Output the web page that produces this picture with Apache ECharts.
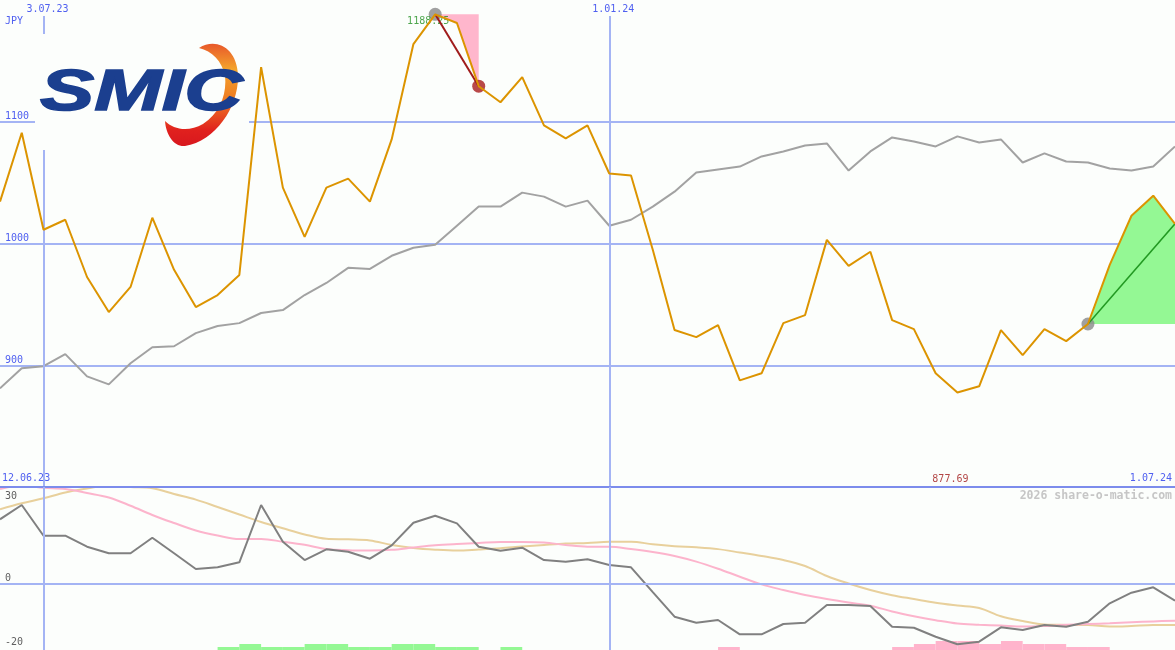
<!DOCTYPE html>
<html>
<head>
<meta charset="utf-8">
<script src="https://cdn.jsdelivr.net/npm/echarts@6/dist/echarts.min.js"></script>
<style>
html,body{margin:0;padding:0;background:#fcfefc;}
#chart{width:1175px;height:650px;}
</style>
</head>
<body>
<div id="chart"></div>
<script>
// ---------- data ----------
const dates = [
 '2023-06-19','2023-06-26','2023-07-03','2023-07-10','2023-07-17','2023-07-24','2023-07-31','2023-08-07','2023-08-14','2023-08-21',
 '2023-08-28','2023-09-04','2023-09-11','2023-09-18','2023-09-25','2023-10-02','2023-10-09','2023-10-16','2023-10-23','2023-10-30',
 '2023-11-06','2023-11-13','2023-11-20','2023-11-27','2023-12-04','2023-12-11','2023-12-18','2023-12-25','2024-01-01','2024-01-08',
 '2024-01-15','2024-01-22','2024-01-29','2024-02-05','2024-02-12','2024-02-19','2024-02-26','2024-03-04','2024-03-11','2024-03-18',
 '2024-03-25','2024-04-01','2024-04-08','2024-04-15','2024-04-22','2024-04-29','2024-05-06','2024-05-13','2024-05-20','2024-05-27',
 '2024-06-03','2024-06-10','2024-06-17','2024-06-24','2024-07-01'
];
const closePrice = [
 1034.4, 1091.0, 1011.3, 1019.5, 972.5, 943.7, 964.3, 1021.2, 978.4, 947.8,
 957.7, 974.2, 1144.8, 1045.9, 1005.5, 1045.9, 1053.3, 1034.4, 1085.5, 1163.8,
 1188.25, 1181.1, 1129.2, 1116.0, 1136.6, 1097.0, 1086.3, 1097.0, 1057.5, 1055.8,
 994.8, 928.9, 923.1, 933.0, 887.6, 893.4, 934.6, 941.2, 1003.0, 981.6,
 993.2, 937.1, 929.7, 893.4, 877.69, 882.7, 928.9, 908.3, 929.7, 919.8,
 933.9, 982.4, 1022.8, 1039.3, 1016.2
];
const movingAvg = [
 881.0, 897.5, 899.2, 909.1, 890.9, 884.3, 901.6, 914.8, 915.6, 926.4,
 932.2, 934.6, 942.9, 945.3, 957.7, 967.6, 980.0, 979.1, 989.9, 996.5,
 998.9, 1014.6, 1030.3, 1030.3, 1041.8, 1038.5, 1030.3, 1035.2, 1014.6, 1019.5,
 1030.3, 1042.6, 1058.3, 1060.8, 1063.2, 1071.5, 1075.6, 1080.5, 1082.2, 1059.9,
 1075.6, 1087.1, 1083.8, 1079.7, 1088.0, 1083.0, 1085.5, 1066.5, 1074.0, 1067.4,
 1066.5, 1061.6, 1059.9, 1063.2, 1079.7
];
const momentum = [
 19.96, 24.4, 14.86, 14.86, 11.44, 9.39, 9.39, 14.24, 9.39, 4.51,
 5.04, 6.59, 24.4, 13.0, 7.30, 10.63, 9.89, 7.71, 11.87, 18.9,
 21.08, 18.71, 11.44, 10.2, 11.13, 7.30, 6.78, 7.52, 5.75, 5.04,
 -2.7, -10.32, -12.19, -11.35, -15.79, -15.79, -12.59, -12.19, -6.68, -6.68,
 -6.99, -13.43, -13.74, -16.54, -18.9, -18.09, -13.62, -14.45, -12.9, -13.43,
 -11.87, -6.15, -2.86, -1.18, -5.35
];
const momentumFast = [
 29.37, 30.46, 29.78, 29.37, 28.13, 26.73, 24.18, 21.3, 18.8, 16.47,
 14.92, 13.83, 13.83, 12.99, 12.03, 10.72, 10.35, 10.26, 10.48, 11.19,
 11.87, 12.28, 12.59, 12.9, 12.9, 12.74, 11.97, 11.44, 11.44, 10.72,
 9.79, 8.55, 6.8, 4.6, 2.11, -0.28, -2.02, -3.57, -4.82, -5.91,
 -6.9, -8.7, -10.16, -11.4, -12.46, -12.81, -13.09, -13.4, -13.21, -12.84,
 -12.59, -12.37, -12.06, -11.78, -11.57
];
const momentumSlow = [
 23.07, 24.93, 26.49, 28.29, 29.53, 30.56, 30.0, 29.62, 27.82, 26.08,
 23.78, 21.45, 19.12, 17.16, 15.26, 13.9, 13.74, 13.4, 11.97, 11.04,
 10.51, 10.23, 10.57, 10.97, 11.5, 11.97, 12.4, 12.62, 12.96, 12.99,
 12.19, 11.6, 11.25, 10.69, 9.64, 8.55, 7.3, 5.44, 2.33, 0,
 -2.02, -3.64, -4.82, -5.97, -6.84, -7.62, -10.2, -11.66, -12.75, -12.87,
 -12.9, -13.4, -13.21, -12.9, -12.9
];
const upBarWeeks   = [10, 11, 12, 13, 14, 15, 16, 17, 18, 19, 20, 21, 23];
const upBarHeights = [0.93, 1.87, 0.93, 0.93, 1.87, 1.87, 0.93, 0.93, 1.87, 1.87, 0.93, 0.93, 0.93];
const downBarWeeks   = [33, 41, 42, 43, 44, 45, 46, 47, 48, 49, 50];
const downBarHeights = [0.93, 0.93, 1.87, 2.8, 2.8, 1.87, 2.8, 1.87, 1.87, 0.93, 0.93];

const xTickDates  = ['2023-07-03', '2024-01-01'];
const xTickLabels = ['3.07.23', '1.01.24'];
const priceTicks  = [900, 1000, 1100];
const rangeStartLabel = '12.06.23';
const rangeEndLabel   = '1.07.24';
const currencyLabel = 'JPY';
const creditLabel = '2026 share-o-matic.com';

const PEAK_IDX = 20;      // highest close
const DRAWDOWN_IDX = 22;  // end of marked drop
const LOW_IDX = 44;       // lowest close
const RISE_START = 50;
const RISE_END = 54;

// ---------- style constants ----------
const BG = '#fcfefc';
const GRID = '#a4b4f4';
const DIV = '#7c8cec';
const BLUE = '#5060f0';
const MONO = '"DejaVu Sans Mono", monospace';
const PRICE_MIN = 800, PRICE_MAX = 1200;
const LOW_MIN = -20.67, LOW_MAX = 30;
const VLINE_TOP = 1186.9;

const t = s => new Date(s + 'T00:00:00').getTime();
const T = dates.map(t);
const pair = arr => arr.map((v, i) => [T[i], v]);

const crescentSvg =
  '<svg xmlns="http://www.w3.org/2000/svg" width="80" height="112" viewBox="160 38 80 112">' +
  '<defs><linearGradient id="g" x1="0" y1="0" x2="0" y2="1">' +
  '<stop offset="0" stop-color="#e8582a"/><stop offset="0.25" stop-color="#f4a42c"/>' +
  '<stop offset="0.55" stop-color="#ee7a22"/><stop offset="0.85" stop-color="#e0201e"/>' +
  '<stop offset="1" stop-color="#d8181e"/></linearGradient></defs>' +
  '<path fill="url(#g)" d="M199 48 C216 37 237 48 238 75 C239 106 216 141 185 146 C174 147 166 135 165 121 ' +
  'C174 130 189 132 203 124 C220 113 227 94 225 76 C222 61 212 51 199 48 Z"/></svg>';
const crescentUrl = 'data:image/svg+xml;charset=utf-8,' + encodeURIComponent(crescentSvg);

const chart = echarts.init(document.getElementById('chart'), null, {renderer: 'canvas'});

const option = {
  backgroundColor: BG,
  animation: false,
  grid: [
    {left: 0, right: 0, top: 0, height: 487},
    {left: 0, right: 0, top: 487, height: 163}
  ],
  xAxis: [
    {type: 'time', gridIndex: 0, min: T[0], max: T[T.length - 1], show: false},
    {type: 'time', gridIndex: 1, min: T[0], max: T[T.length - 1], show: false}
  ],
  yAxis: [
    {
      type: 'value', gridIndex: 0, min: PRICE_MIN, max: PRICE_MAX, interval: 100,
      axisLine: {show: false}, axisTick: {show: false},
      axisLabel: {
        inside: true, margin: 5, verticalAlign: 'bottom', color: BLUE,
        fontFamily: MONO, fontSize: 10,
        formatter: v => priceTicks.indexOf(v) >= 0 ? String(v) : ''
      },
      splitLine: {show: true, showMinLine: false, showMaxLine: false, lineStyle: {color: GRID, width: 2}}
    },
    {
      type: 'value', gridIndex: 1, min: LOW_MIN, max: LOW_MAX,
      axisLine: {show: false}, axisTick: {show: false}, splitLine: {show: false},
      axisLabel: {
        customValues: [-20, 0], inside: true, margin: 5, verticalAlign: 'bottom',
        color: '#606060', fontFamily: MONO, fontSize: 10
      }
    },
    {
      type: 'value', gridIndex: 1, min: LOW_MIN, max: LOW_MAX, position: 'left',
      axisLine: {show: false}, axisTick: {show: false}, splitLine: {show: false},
      axisLabel: {
        customValues: [30], inside: true, margin: 5, verticalAlign: 'top',
        padding: [4, 0, 0, 0],
        color: '#606060', fontFamily: MONO, fontSize: 10
      }
    }
  ],
  series: [
    // moving average
    {
      type: 'line', xAxisIndex: 0, yAxisIndex: 0, z: 2, silent: true,
      data: pair(movingAvg), symbol: 'none',
      lineStyle: {color: '#a2a2a2', width: 2},
      markLine: {
        silent: true, symbol: 'none', animation: false,
        lineStyle: {color: GRID, width: 2, type: 'solid'},
        label: {
          show: true, position: 'start', formatter: '{b}', color: BLUE,
          fontFamily: MONO, fontSize: 10, distance: 2, padding: [0, 0, 0, 8]
        },
        data: xTickDates.map((d, i) => [
          {name: xTickLabels[i], coord: [t(d), VLINE_TOP]},
          {coord: [t(d), PRICE_MIN]}
        ]).concat([[
          {name: '', coord: [T[0], PRICE_MIN], lineStyle: {color: DIV, width: 2}, label: {show: false}},
          {coord: [T[T.length - 1], PRICE_MIN]}
        ]])
      }
    },
    // pink drop area
    {
      type: 'custom', xAxisIndex: 0, yAxisIndex: 0, z: 1, silent: true,
      data: [[T[PEAK_IDX], closePrice[PEAK_IDX]]],
      renderItem: (params, api) => {
        const pts = [api.coord([T[PEAK_IDX], closePrice[PEAK_IDX]]),
                     api.coord([T[DRAWDOWN_IDX], closePrice[PEAK_IDX]])];
        for (let i = DRAWDOWN_IDX; i >= PEAK_IDX; i--) pts.push(api.coord([T[i], closePrice[i]]));
        return {type: 'polygon', shape: {points: pts}, style: {fill: '#ffb6cc'}};
      }
    },
    // green rise area
    {
      type: 'custom', xAxisIndex: 0, yAxisIndex: 0, z: 1, silent: true,
      data: [[T[RISE_START], closePrice[RISE_START]]],
      renderItem: (params, api) => {
        const pts = [];
        for (let i = RISE_START; i <= RISE_END; i++) pts.push(api.coord([T[i], closePrice[i]]));
        pts.push(api.coord([T[RISE_END], closePrice[RISE_START]]));
        return {type: 'polygon', shape: {points: pts}, style: {fill: '#94f894'}};
      }
    },
    // markers (circles)
    {
      type: 'scatter', xAxisIndex: 0, yAxisIndex: 0, z: 3, silent: true,
      symbol: 'circle', symbolSize: 13,
      data: [
        {value: [T[PEAK_IDX], closePrice[PEAK_IDX]], itemStyle: {color: '#888888'},
         label: {show: true, position: 'inside', offset: [-7, 7], color: '#209020',
                 fontFamily: MONO, fontSize: 10,
                 formatter: p => p.value[1].toFixed(2)}},
        {value: [T[DRAWDOWN_IDX], closePrice[DRAWDOWN_IDX]], itemStyle: {color: '#a81c1c'}},
        {value: [T[RISE_START], closePrice[RISE_START]], itemStyle: {color: '#888888'}}
      ]
    },
    // low label
    {
      type: 'scatter', xAxisIndex: 0, yAxisIndex: 0, z: 6, silent: true,
      symbolSize: 0,
      data: [[T[LOW_IDX], PRICE_MIN]],
      label: {show: true, position: 'top', distance: 3, offset: [-7, 0], color: '#a01818',
              fontFamily: MONO, fontSize: 10,
              formatter: () => closePrice[LOW_IDX].toFixed(2)}
    },
    // drop line
    {
      type: 'line', xAxisIndex: 0, yAxisIndex: 0, z: 4, silent: true, symbol: 'none',
      data: [[T[PEAK_IDX], closePrice[PEAK_IDX]], [T[DRAWDOWN_IDX], closePrice[DRAWDOWN_IDX]]],
      lineStyle: {color: '#a01c1c', width: 2}
    },
    // rise line
    {
      type: 'line', xAxisIndex: 0, yAxisIndex: 0, z: 4, silent: true, symbol: 'none',
      data: [[T[RISE_START], closePrice[RISE_START]], [T[RISE_END], closePrice[RISE_END]]],
      lineStyle: {color: '#229922', width: 1.5}
    },
    // close price
    {
      type: 'line', xAxisIndex: 0, yAxisIndex: 0, z: 5, silent: true,
      data: pair(closePrice), symbol: 'none',
      lineStyle: {color: '#dc9400', width: 2}
    },
    // lower: bars
    {
      type: 'custom', xAxisIndex: 1, yAxisIndex: 1, z: 1, silent: true,
      encode: {x: [0, 1], y: 2},
      data: upBarWeeks.map((w, k) => [T[w], T[w + 1], upBarHeights[k], 0])
        .concat(downBarWeeks.map((w, k) => [T[w], T[w + 1], downBarHeights[k], 1])),
      renderItem: (params, api) => {
        const a = api.coord([api.value(0), LOW_MIN]);
        const b = api.coord([api.value(1), LOW_MIN + api.value(2)]);
        return {type: 'rect', shape: {x: a[0], y: b[1], width: b[0] - a[0], height: a[1] - b[1]},
                style: {fill: api.value(3) ? '#ffb4cc' : '#94f894'}};
      }
    },
    {
      type: 'line', xAxisIndex: 1, yAxisIndex: 1, z: 2, silent: true, symbol: 'none',
      smooth: 0.35, data: pair(momentumSlow),
      lineStyle: {color: '#e8d09c', width: 2}
    },
    {
      type: 'line', xAxisIndex: 1, yAxisIndex: 1, z: 3, silent: true, symbol: 'none',
      smooth: 0.35, data: pair(momentumFast),
      lineStyle: {color: '#fcb4cc', width: 2}
    },
    {
      type: 'line', xAxisIndex: 1, yAxisIndex: 1, z: 4, silent: true, symbol: 'none',
      data: pair(momentum),
      lineStyle: {color: '#808080', width: 2},
      markLine: {
        silent: true, symbol: 'none', animation: false,
        lineStyle: {color: GRID, width: 2, type: 'solid'},
        label: {show: false},
        data: [{yAxis: 0}].concat(xTickDates.map(d => ({xAxis: t(d)})))
      }
    }
  ],
  graphic: [
    {type: 'text', left: 5, top: 16, z: 50, style: {text: currencyLabel, fill: BLUE, font: '10px ' + MONO}},
    {type: 'text', left: 2, top: 473, z: 50, style: {text: rangeStartLabel, fill: BLUE, font: '10px ' + MONO}},
    {type: 'text', right: 3, top: 473, z: 50, style: {text: rangeEndLabel, fill: BLUE, font: '10px ' + MONO}},
    {type: 'text', right: 3, top: 490, z: 50, style: {text: creditLabel, fill: '#c6c6c6', font: 'bold 11.5px ' + MONO}},
    {type: 'rect', z: 100, shape: {x: 35, y: 34, width: 214, height: 116}, style: {fill: BG}},
    {type: 'image', z: 101, style: {image: crescentUrl, x: 160, y: 38, width: 80, height: 112}},
    {type: 'text', z: 102, x: 40, y: 94, scaleX: 1.4, style: {text: 'SMIC', x: 0, y: 0,
      font: 'italic 900 58px "Liberation Sans"', fill: '#1b3f8f', stroke: '#1b3f8f', lineWidth: 1.5,
      verticalAlign: 'middle'}}
  ]
};
chart.setOption(option);
</script>
</body>
</html>
